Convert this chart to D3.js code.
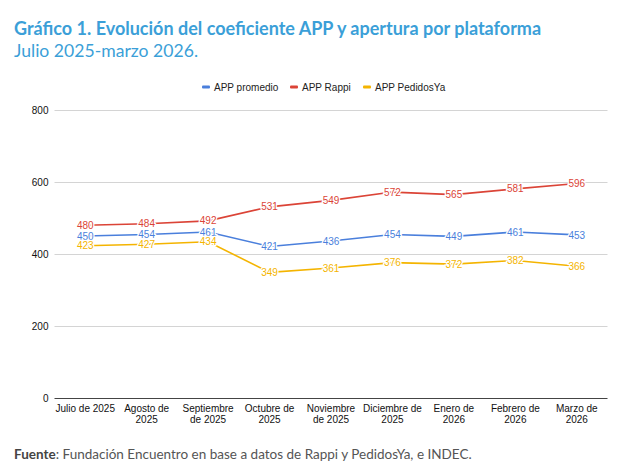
<!DOCTYPE html>
<html><head><meta charset="utf-8">
<script src="https://cdn.jsdelivr.net/npm/d3@7"></script>
<style>
body{margin:0;background:#fff;}
svg{display:block;}
</style></head>
<body>
<svg id="c" width="633" height="464"></svg>
<script>
const categories = [["Julio de 2025"],["Agosto de","2025"],["Septiembre","de 2025"],["Octubre de","2025"],["Noviembre","de 2025"],["Diciembre de","2025"],["Enero de","2026"],["Febrero de","2026"],["Marzo de","2026"]];
const promedio = [450,454,461,421,436,454,449,461,453];
const rappi = [480,484,492,531,549,572,565,581,596];
const pedidosYa = [423,427,434,349,361,376,372,382,366];
const seriesNames = ["APP promedio","APP Rappi","APP PedidosYa"];
const seriesColors = ["#4a7fdc","#db4437","#f4b400"];
const yTicks = [0,200,400,600,800];

(function(){
const svg = d3.select("#c");
const pL = 54.5, pR = 607.5, pT = 110, pB = 398;
const x = d3.scaleBand().domain(d3.range(categories.length)).range([pL,pR]);
const y = d3.scaleLinear().domain([0,800]).range([pB,pT]);

svg.append("text").attr("x",14).attr("y",35).attr("font-family","Lato, 'Open Sans', sans-serif")
  .attr("font-weight","bold").attr("font-size",18).attr("fill","#3b9fd8")
  .text("Gráfico 1. Evolución del coeficiente APP y apertura por plataforma");
svg.append("text").attr("x",14).attr("y",57).attr("font-family","Lato, 'Open Sans', sans-serif")
  .attr("font-size",17.6).attr("fill","#3b9fd8").text("Julio 2025-marzo 2026.");

const gy = svg.append("g").attr("transform",`translate(${pL},0)`)
  .call(d3.axisLeft(y).tickValues(yTicks).tickSize(-(pR-pL)).tickPadding(6));
gy.select(".domain").remove();
gy.selectAll(".tick line").attr("stroke",d=>d===0?"#444":"#d4d4d4").attr("stroke-width",1);
gy.selectAll(".tick text").attr("font-family","Liberation Sans, Arial, sans-serif").attr("font-size",10).attr("fill","#111");

const gx = svg.append("g").attr("transform",`translate(0,${pB})`)
  .call(d3.axisBottom(x).tickSize(0).tickFormat(""));
gx.select(".domain").remove();
gx.selectAll(".tick").each(function(d){
  const t = d3.select(this).append("text").attr("fill","#111").attr("text-anchor","middle")
    .attr("font-family","Liberation Sans, Arial, sans-serif").attr("font-size",10);
  categories[d].forEach((s,i)=>t.append("tspan").attr("x",0).attr("y",14+i*10.5).text(s));
});

const legX = [202,290,363];
seriesNames.forEach((n,i)=>{
  const g = svg.append("g").attr("transform",`translate(${legX[i]},87)`);
  g.append("rect").attr("x",0).attr("y",-1.5).attr("width",8).attr("height",3).attr("rx",1).attr("fill",seriesColors[i]);
  g.append("text").attr("x",12).attr("y",3.5).attr("font-family","Liberation Sans, Arial, sans-serif")
    .attr("font-size",10).attr("fill","#222").text(n);
});

const data = [promedio,rappi,pedidosYa];
const line = d3.line().x((d,i)=>x(i)+x.bandwidth()/2).y(d=>y(d));
data.forEach((s,k)=>{
  svg.append("path").datum(s).attr("d",line).attr("fill","none").attr("stroke",seriesColors[k]).attr("stroke-width",1.6);
});
data.forEach((s,k)=>{
  svg.append("g").selectAll("text").data(s).join("text")
    .attr("x",(d,i)=>x(i)+x.bandwidth()/2).attr("y",d=>y(d)+3.6)
    .attr("text-anchor","middle").attr("font-family","Liberation Sans, Arial, sans-serif").attr("font-size",10)
    .attr("fill",seriesColors[k]).attr("stroke","#fff").attr("stroke-width",2.5).attr("paint-order","stroke")
    .text(d=>d);
});

const src = svg.append("text").attr("x",14).attr("y",459).attr("font-family","Lato, 'Open Sans', sans-serif")
  .attr("font-size",13.5).attr("fill","#555");
src.append("tspan").attr("font-weight","bold").attr("fill","#444").text("Fuente");
src.append("tspan").text(": Fundación Encuentro en base a datos de Rappi y PedidosYa, e INDEC.");
})();
</script>
</body></html>
